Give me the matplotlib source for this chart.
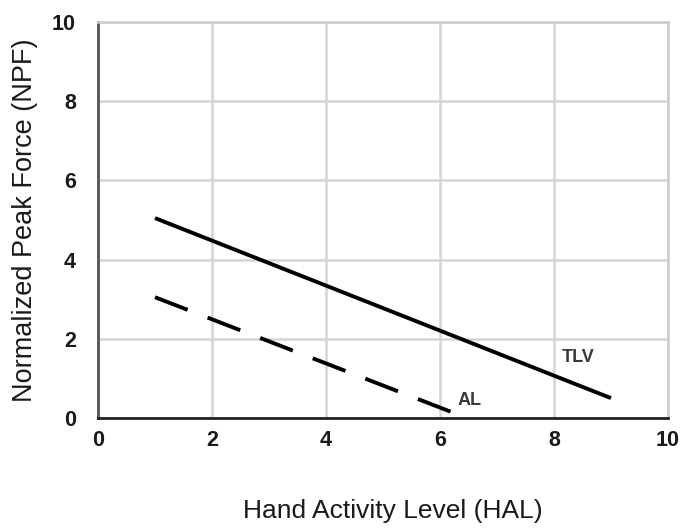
import matplotlib
matplotlib.use("Agg")
import matplotlib.pyplot as plt

plt.rcParams['font.family'] = ['Liberation Sans', 'DejaVu Sans']

# Data
tlv_x = [1, 9]
tlv_y = [5.05, 0.5]
al_x = [1, 6.2]
al_y = [3.05, 0.15]
x_ticks = [0, 2, 4, 6, 8, 10]
y_ticks = [0, 2, 4, 6, 8, 10]

fig = plt.figure(figsize=(6.83, 5.29), dpi=100)
ax = fig.add_axes([0.1435, 0.21, 0.8345, 0.748])

ax.plot(tlv_x, tlv_y, color='black', lw=2.8, solid_capstyle='butt')
ax.plot(al_x, al_y, color='black', lw=2.8, dashes=(9, 5.5), dash_capstyle='butt')

ax.text(8.14, 1.52, 'TLV', fontsize=13, fontweight='bold', color='#3a3a3a', ha='left', va='center')
ax.text(6.3, 0.45, 'AL', fontsize=13, fontweight='bold', color='#3a3a3a', ha='left', va='center')

ax.set_xlim(0, 10)
ax.set_ylim(0, 10)
ax.set_xticks(x_ticks)
ax.set_yticks(y_ticks)
ax.set_xticklabels([str(t) for t in x_ticks], fontsize=15.5, fontweight='bold', color='#1a1a1a')
ax.set_yticklabels([str(t) for t in y_ticks], fontsize=15.5, fontweight='bold', color='#1a1a1a')
ax.tick_params(axis='both', length=0)
ax.tick_params(axis='x', pad=9)
ax.tick_params(axis='y', pad=16)

ax.grid(True, color='#d4d4d4', lw=1.8)
ax.set_axisbelow(True)
for s in ['top', 'right']:
    ax.spines[s].set_color('#cccccc')
    ax.spines[s].set_linewidth(1.8)
ax.spines['left'].set_color('#555555')
ax.spines['left'].set_linewidth(2)
ax.spines['bottom'].set_color('#222222')
ax.spines['bottom'].set_linewidth(2)

ax.set_xlabel('Hand Activity Level (HAL)', fontsize=19, color='#1a1a1a')
ax.xaxis.set_label_coords(0.517, -0.205, transform=ax.transAxes)
ax.set_ylabel('Normalized Peak Force (NPF)', fontsize=19.5, color='#1a1a1a')
ax.yaxis.set_label_coords(-0.106, 0.5, transform=ax.transAxes)

fig.savefig('out.png', dpi=100)
